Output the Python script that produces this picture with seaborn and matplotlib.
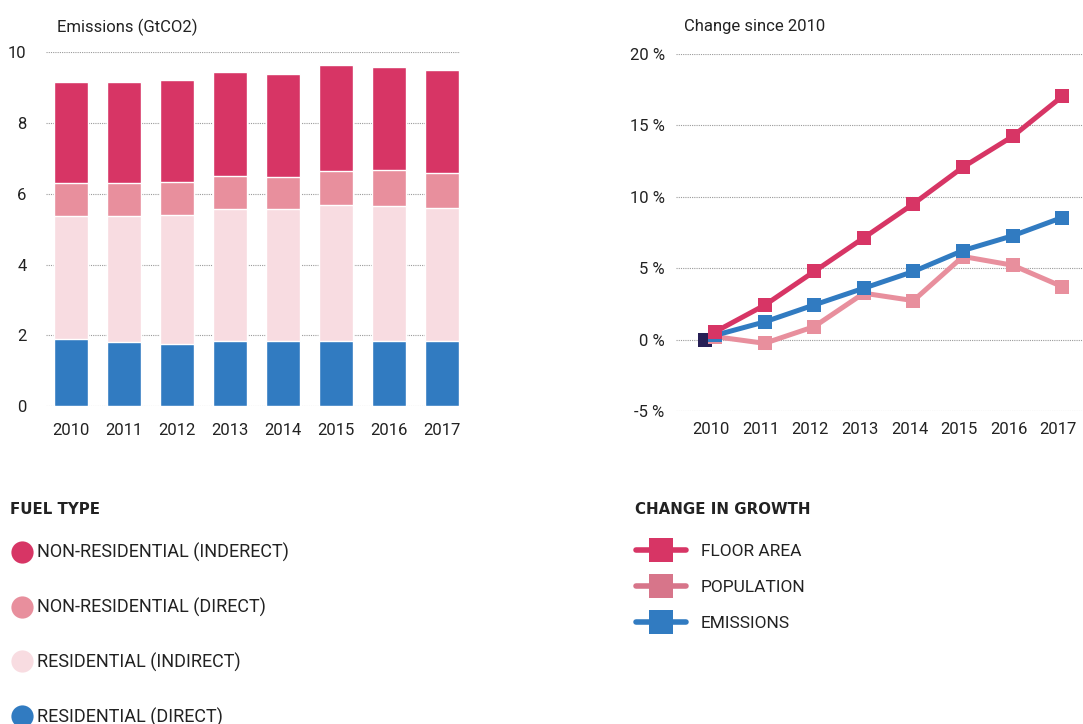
#!/usr/bin/env python3
# Building emissions by fuel type (left) and growth since 2010 (right)
import pandas as pd
import matplotlib
matplotlib.use("Agg")
import matplotlib.pyplot as plt
from matplotlib.lines import Line2D
from matplotlib.transforms import ScaledTranslation
import seaborn as sns

# Data
years = [2010, 2011, 2012, 2013, 2014, 2015, 2016, 2017]
res_direct = [1.89, 1.80, 1.75, 1.83, 1.83, 1.83, 1.83, 1.83]
res_indirect = [3.48, 3.57, 3.65, 3.74, 3.74, 3.85, 3.82, 3.76]
nonres_direct = [0.93, 0.93, 0.93, 0.93, 0.90, 0.96, 1.02, 0.99]
nonres_indirect = [2.86, 2.86, 2.89, 2.94, 2.92, 3.00, 2.91, 2.92]

floor_area = [0.54, 2.41, 4.77, 7.13, 9.51, 12.08, 14.23, 17.03]
population = [0.21, -0.26, 0.91, 3.25, 2.73, 5.82, 5.21, 3.71]
emissions = [0.3, 1.24, 2.43, 3.60, 4.77, 6.24, 7.27, 8.55]
baseline = [0.0]

fuel_labels = ["NON-RESIDENTIAL (INDERECT)", "NON-RESIDENTIAL (DIRECT)",
               "RESIDENTIAL (INDIRECT)", "RESIDENTIAL (DIRECT)"]
growth_labels = ["FLOOR AREA", "POPULATION", "EMISSIONS"]

c_nonres_ind = "#D73565"
c_nonres_dir = "#E88F9D"
c_res_ind = "#F8DCE1"
c_res_dir = "#317BC1"
c_pop_legend = "#D7758A"
c_navy = "#261F55"

sns.set_theme(style="white")
plt.rcParams["font.family"] = ["Roboto", "DejaVu Sans"]
text_col = "#222222"

fig = plt.figure(figsize=(10.83, 7.24), dpi=100)
ax1 = fig.add_axes([0.0425, 0.439, 0.3823, 0.489])
ax2 = fig.add_axes([0.624, 0.4323, 0.376, 0.4931])

# --- stacked bars: draw cumulative totals from the top down
df = pd.DataFrame({"year": years, "a": res_direct, "b": res_indirect,
                   "c": nonres_direct, "d": nonres_indirect})
df["cum_b"] = df["a"] + df["b"]
df["cum_c"] = df["cum_b"] + df["c"]
df["cum_d"] = df["cum_c"] + df["d"]

for col, color in [("cum_d", c_nonres_ind), ("cum_c", c_nonres_dir),
                   ("cum_b", c_res_ind), ("a", c_res_dir)]:
    sns.barplot(data=df, x="year", y=col, color=color, width=0.64,
                saturation=1, ax=ax1, zorder=2)

ax1.set_xlim(-0.47, 7.34)
ax1.set_ylim(0, 10)
ax1.set_yticks([0, 2, 4, 6, 8, 10])
ax1.set_xlabel("")
ax1.set_ylabel("")

# --- growth lines
long = pd.DataFrame({
    "year": years * 3,
    "value": population + emissions + floor_area,
    "series": ["POPULATION"] * 8 + ["EMISSIONS"] * 8 + ["FLOOR AREA"] * 8,
})
sns.scatterplot(x=[years[0]], y=baseline, color=c_navy, marker="s", s=110,
                linewidth=0, ax=ax2, zorder=2)
sns.lineplot(data=long, x="year", y="value", hue="series",
             hue_order=["POPULATION", "EMISSIONS", "FLOOR AREA"],
             palette={"POPULATION": c_nonres_dir, "EMISSIONS": c_res_dir,
                      "FLOOR AREA": c_nonres_ind},
             marker="s", markersize=10, markeredgewidth=0, linewidth=3.6,
             legend=False, ax=ax2, zorder=3)
# the lines sit a few pixels right of the ticks, the base marker a bit left
for line in ax2.lines:
    line.set_transform(ax2.transData + ScaledTranslation(0.04, 0, fig.dpi_scale_trans))
coll = ax2.collections[0]
coll.set_offset_transform(ax2.transData + ScaledTranslation(-0.06, 0, fig.dpi_scale_trans))

ax2.set_xlim(2009.29, 2017.5)
ax2.set_ylim(-5, 20)
ax2.set_yticks([-5, 0, 5, 10, 15, 20])
ax2.set_yticklabels([f"{v} %" for v in [-5, 0, 5, 10, 15, 20]])
ax2.set_xticks(years)
ax2.set_xlabel("")
ax2.set_ylabel("")

for ax in (ax1, ax2):
    sns.despine(ax=ax, left=True, bottom=True)
    ax.grid(axis="y", color="#9a9a9a", linestyle=(0, (1, 1)), linewidth=0.8, zorder=0)
    ax.set_axisbelow(True)
    ax.tick_params(axis="both", length=0, labelsize=12, colors=text_col)
ax1.tick_params(axis="x", pad=12)
ax1.tick_params(axis="y", pad=14)
ax2.tick_params(axis="x", pad=8)
ax2.tick_params(axis="y", pad=8)

fig.text(57 / 1083, 1 - 27 / 724, "Emissions (GtCO2)", fontsize=12,
         color=text_col, va="center")
fig.text(684 / 1083, 1 - 27 / 724, "Change since 2010", fontsize=12,
         color=text_col, va="center")

# --- legends
head_font = {"family": ["DejaVu Sans"], "weight": "bold", "size": 10.8}
fig.text(10 / 1083, 1 - 509 / 724, "FUEL TYPE", color=text_col, va="center",
         fontdict=head_font)
fig.text(635 / 1083, 1 - 509 / 724, "CHANGE IN GROWTH", color=text_col,
         va="center", fontdict=head_font)

fuel_handles = [Line2D([], [], marker="o", linestyle="", markersize=16,
                       markerfacecolor=c, markeredgewidth=0)
                for c in [c_nonres_ind, c_nonres_dir, c_res_ind, c_res_dir]]
fig.legend(fuel_handles, fuel_labels, loc="upper left",
           bbox_to_anchor=(13 / 1083, 1 - 543 / 724), frameon=False,
           fontsize=13, labelspacing=1.98, handlelength=1.0,
           handletextpad=0.35, borderpad=0, borderaxespad=0,
           labelcolor=text_col)

growth_handles = [Line2D([], [], color=c, linewidth=4, marker="s",
                         markersize=17, markeredgewidth=0)
                  for c in [c_nonres_ind, c_pop_legend, c_res_dir]]
fig.legend(growth_handles, growth_labels, loc="upper left",
           bbox_to_anchor=(636 / 1083, 1 - 544 / 724), frameon=False,
           fontsize=12.5, labelspacing=1.2, handlelength=2.9,
           handletextpad=0.85, borderpad=0, borderaxespad=0,
           labelcolor=text_col)

fig.savefig("out.png", dpi=100)
